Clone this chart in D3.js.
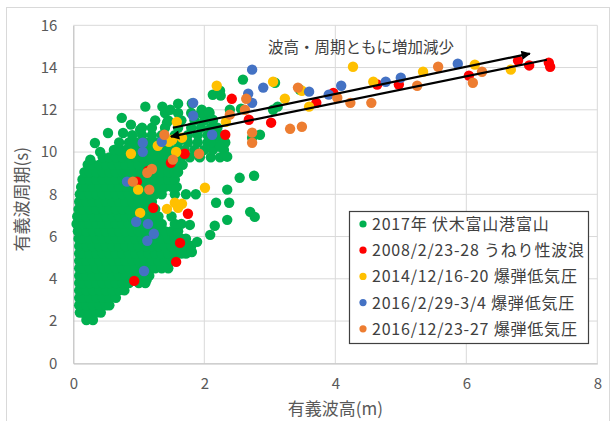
<!DOCTYPE html>
<html><head><meta charset="utf-8">
<script src="https://cdn.jsdelivr.net/npm/d3@7"></script>
<style>body{margin:0;background:#fff}</style>
</head><body>
<svg id="c" width="614" height="421"></svg>
<script>
// ---------------- data ----------------
const xTicks = [0, 2, 4, 6, 8];
const yTicks = [0, 2, 4, 6, 8, 10, 12, 14, 16];
const xTitle = "有義波高(m)";
const yTitle = "有義波周期(s)";
const annotation = "波高・周期ともに増加減少";
const seriesNames = [
  "2017年 伏木富山港富山",
  "2008/2/23-28 うねり性波浪",
  "2014/12/16-20 爆弾低気圧",
  "2016/2/29-3/4 爆弾低気圧",
  "2016/12/23-27 爆弾低気圧"
];

// 2017 Fushiki-Toyama: dense cloud, rows of [period, [wave heights]]
const greenRows = [
  [2.05, [0.2, 0.3]],
  [2.4,  [0.1, 0.15, 0.25, 0.35, 0.42]],
  [2.75, [0.09, 0.2, 0.3, 0.4, 0.5, 0.55]],
  [3.1,  [0.09, 0.15, 0.25, 0.35, 0.45, 0.55, 0.65]],
  [3.45, [0.09, 0.2, 0.3, 0.4, 0.5, 0.6, 0.7, 0.78]],
  [3.8,  [0.09, 0.15, 0.25, 0.35, 0.45, 0.55, 0.65, 0.75, 0.85, 1.0, 1.1]],
  [4.15, [0.09, 0.2, 0.3, 0.4, 0.5, 0.6, 0.7, 0.8, 0.9, 1.0, 1.1, 1.16]],
  [4.5,  [0.09, 0.15, 0.25, 0.35, 0.45, 0.55, 0.65, 0.75, 0.85, 0.95, 1.05, 1.15, 1.25, 1.35, 1.45]],
  [4.85, [0.09, 0.2, 0.3, 0.4, 0.5, 0.6, 0.7, 0.8, 0.9, 1.0, 1.1, 1.2, 1.3, 1.4, 1.5]],
  [5.2,  [0.09, 0.15, 0.25, 0.35, 0.45, 0.55, 0.65, 0.75, 0.85, 0.95, 1.05, 1.15, 1.25, 1.35, 1.45, 1.55, 1.65, 1.72]],
  [5.55, [0.09, 0.2, 0.3, 0.4, 0.5, 0.6, 0.7, 0.8, 0.9, 1.0, 1.1, 1.2, 1.3, 1.4, 1.5, 1.6, 1.7, 1.8]],
  [5.9,  [0.08, 0.15, 0.25, 0.35, 0.45, 0.55, 0.65, 0.75, 0.85, 0.95, 1.05, 1.15, 1.25, 1.35, 1.45, 1.55, 1.65, 1.72]],
  [6.25, [0.07, 0.2, 0.3, 0.4, 0.5, 0.6, 0.7, 0.8, 0.9, 1.0, 1.1, 1.2, 1.3, 1.4, 1.5, 1.6]],
  [6.6,  [0.05, 0.15, 0.25, 0.35, 0.45, 0.55, 0.65, 0.75, 0.85, 0.95, 1.05, 1.15, 1.25, 1.35, 1.55, 1.65]],
  [6.95, [0.06, 0.1, 0.2, 0.3, 0.4, 0.5, 0.6, 0.7, 0.8, 0.9, 1.0, 1.1, 1.2, 1.3, 1.5]],
  [7.3,  [0.08, 0.15, 0.25, 0.35, 0.45, 0.55, 0.65, 0.75, 0.85, 0.95, 1.05, 1.15, 1.25]],
  [7.65, [0.09, 0.2, 0.3, 0.4, 0.5, 0.6, 0.7, 0.8, 0.9, 1.0, 1.1, 1.2]],
  [8.0,  [0.1, 0.15, 0.25, 0.35, 0.45, 0.55, 0.65, 0.75, 0.85, 0.95, 1.05, 1.15, 1.25, 1.35, 1.55, 1.72, 1.87]],
  [8.35, [0.12, 0.2, 0.3, 0.4, 0.5, 0.6, 0.7, 0.8, 0.9, 1.0, 1.1, 1.2, 1.3, 1.4, 1.5, 1.58]],
  [8.7,  [0.14, 0.25, 0.35, 0.45, 0.55, 0.65, 0.75, 0.85, 0.95, 1.05, 1.15, 1.25, 1.35, 1.45, 1.55]],
  [9.05, [0.17, 0.25, 0.35, 0.45, 0.55, 0.65, 0.75, 0.85, 0.95, 1.05, 1.15, 1.25, 1.35, 1.45, 1.55, 1.6]],
  [9.4,  [0.22, 0.3, 0.4, 0.5, 0.6, 0.7, 0.8, 0.9, 1.0, 1.1, 1.2, 1.3, 1.4, 1.5, 1.6, 1.67]],
  [9.75, [0.45, 0.55, 0.65, 0.75, 0.85, 0.95, 1.05, 1.15, 1.25, 1.35, 1.45, 1.55, 1.65, 1.78, 1.93, 2.1, 2.24]],
  [10.1, [0.62, 0.7, 0.8, 0.9, 1.0, 1.1, 1.2, 1.3, 1.4, 1.5, 1.6, 1.7, 1.85, 2.0, 2.13, 2.3]],
  [10.45,[0.7, 0.85, 0.95, 1.05, 1.15, 1.25, 1.35, 1.45, 1.6, 1.75, 1.9, 2.05, 2.2, 2.32]],
  [10.8, [0.9, 1.05, 1.2, 1.35, 1.55, 1.75, 1.9, 2.05, 2.2, 2.3]],
  [11.15,[1.05, 1.2, 1.4, 1.6, 1.8, 1.95, 2.1, 2.2]],
  [11.5, [1.25, 1.45, 1.65, 1.85, 2.0, 2.13]],
  [11.85,[1.4, 1.6, 1.8, 1.95, 2.08]]
];
// 2017 scattered points [height, period]
const greenSparse = [
  [0.26, 9.64], [0.33, 10.43], [0.41, 10.0], [0.53, 10.9], [0.76, 10.9], [0.74, 11.62],
  [0.88, 11.3], [1.02, 11.06], [1.1, 12.15], [1.36, 12.15], [1.48, 12.0], [1.6, 12.29],
  [1.43, 11.39], [1.81, 12.3], [1.96, 12.0], [2.07, 11.9], [2.13, 12.71], [2.25, 12.67],
  [2.24, 12.9], [2.59, 13.43], [3.08, 13.28], [3.46, 12.95], [2.39, 12.0], [2.56, 12.05],
  [3.05, 12.0], [3.12, 12.15], [2.85, 10.82], [2.73, 10.68], [2.13, 11.53], [2.09, 10.44],
  [2.24, 10.25], [2.35, 9.78], [1.93, 9.78], [2.54, 8.78], [2.76, 8.88], [2.35, 8.22],
  [2.18, 7.6], [2.38, 7.6], [2.7, 7.17], [2.77, 6.93], [2.35, 6.79], [2.16, 6.51],
  [2.09, 6.08], [1.78, 6.55], [1.89, 5.75], [1.81, 5.27], [1.12, 3.95]
];
const red2008 = [
  [3.71, 12.33], [3.97, 12.8], [4.64, 13.2], [4.97, 13.2], [6.04, 13.62], [6.79, 14.33],
  [6.96, 14.1], [7.26, 14.23], [7.28, 14.04], [2.42, 12.52], [2.68, 11.53], [3.02, 11.39],
  [2.32, 10.82], [1.7, 9.92], [1.49, 9.49], [1.22, 7.36], [1.75, 7.08], [1.63, 5.7],
  [1.57, 4.8], [0.93, 3.9], [0.97, 8.6], [1.14, 9.1]
];
const yellow2014 = [
  [4.27, 14.04], [4.58, 13.33], [5.34, 13.8], [6.13, 14.14], [6.68, 13.9], [3.6, 12.15],
  [3.23, 12.53], [3.49, 12.9], [3.05, 13.33], [2.19, 13.14], [2.33, 11.43], [1.58, 11.43],
  [1.51, 10.58], [1.46, 10.49], [1.66, 10.68], [1.57, 10.0], [0.88, 9.92], [1.29, 10.3],
  [0.99, 8.22], [2.01, 8.31], [1.55, 7.6], [1.66, 7.55], [1.6, 7.36], [1.43, 7.31], [1.02, 7.12]
];
const blue2016a = [
  [2.73, 13.9], [2.9, 13.05], [2.67, 12.76], [2.73, 12.33], [3.6, 12.86], [3.9, 12.72],
  [4.09, 13.14], [4.77, 13.33], [5.0, 13.52], [5.87, 14.18], [2.12, 10.82], [1.83, 12.33],
  [1.83, 11.72], [1.35, 10.49], [1.06, 10.44], [1.06, 10.01], [0.82, 8.6], [0.96, 6.7],
  [1.14, 6.6], [1.23, 6.13], [1.13, 5.8], [1.08, 4.37]
];
const orange2016b = [
  [3.43, 13.05], [2.64, 12.52], [2.62, 12.0], [2.39, 11.77], [2.73, 10.92], [2.73, 10.44],
  [3.31, 11.1], [3.49, 11.2], [4.03, 12.57], [4.23, 12.33], [4.55, 12.33], [5.25, 13.14],
  [5.57, 14.04], [6.1, 13.28], [6.24, 13.8], [1.39, 10.82], [1.92, 9.92], [1.52, 9.64],
  [1.2, 9.2], [1.13, 9.02], [0.91, 8.6], [1.16, 8.22]
];
// trend arrows [[x0,y0],[x1,y1]]
const arrowUp = [[1.52, 11.15], [6.97, 14.66]];
const arrowDown = [[7.23, 14.37], [1.49, 10.73]];

// ---------------- drawing ----------------
const colors = ["#00b050", "#ff0000", "#ffc000", "#4472c4", "#ed7d31"];
const svg = d3.select("#c");
const FONT = "'Noto Sans CJK JP','Noto Sans',sans-serif";
const TXT = "#595959";

svg.append("rect").attr("x", 6.5).attr("y", 7.5).attr("width", 603).attr("height", 420)
  .attr("fill", "#fff").attr("stroke", "#d9d9d9");

const x = d3.scaleLinear().domain([0, 8]).range([73.3, 597.3]);
const y = d3.scaleLinear().domain([0, 16]).range([363.3, 25.3]);

// grid
const grid = svg.append("g");
grid.selectAll(".gx").data(xTicks.slice(1)).join("line")
  .attr("x1", d => x(d)).attr("x2", d => x(d)).attr("y1", y(16)).attr("y2", y(0))
  .attr("stroke", "#d9d9d9").attr("stroke-width", 1);
grid.selectAll(".gy").data(yTicks.slice(1)).join("line")
  .attr("x1", x(0)).attr("x2", x(8)).attr("y1", d => y(d)).attr("y2", d => y(d))
  .attr("stroke", "#d9d9d9").attr("stroke-width", 1);

// axes
const xAxis = svg.append("g").attr("transform", `translate(0,${y(0)})`)
  .call(d3.axisBottom(x).tickValues(xTicks).tickSize(0).tickPadding(15));
const yAxis = svg.append("g").attr("transform", `translate(${x(0)},0)`)
  .call(d3.axisLeft(y).tickValues(yTicks).tickSize(0).tickPadding(16));
[xAxis, yAxis].forEach(g => {
  g.select(".domain").attr("stroke", "#bfbfbf").attr("stroke-width", 1.2);
  g.selectAll("text").attr("fill", TXT).style("font-family", FONT).style("font-size", "15px");
});

// points
const plot = svg.append("g");
const greenPts = [];
greenRows.forEach(([py, xs]) => xs.forEach(px => greenPts.push([px, py])));
greenSparse.forEach(p => greenPts.push(p));
const all = [greenPts, red2008, yellow2014, blue2016a, orange2016b];
all.forEach((pts, i) => {
  plot.append("g").selectAll("circle").data(pts).join("circle")
    .attr("cx", d => x(d[0])).attr("cy", d => y(d[1])).attr("r", 5.2)
    .attr("fill", colors[i]);
});

// arrows
const defs = svg.append("defs");
defs.append("marker").attr("id", "ah").attr("viewBox", "0 0 10 10")
  .attr("refX", 9).attr("refY", 5).attr("markerWidth", 5).attr("markerHeight", 4.2)
  .attr("orient", "auto").attr("markerUnits", "strokeWidth")
  .append("path").attr("d", "M0,0 L10,5 L0,10 Z").attr("fill", "#000");
[arrowUp, arrowDown].forEach(a => {
  svg.append("line")
    .attr("x1", x(a[0][0])).attr("y1", y(a[0][1]))
    .attr("x2", x(a[1][0])).attr("y2", y(a[1][1]))
    .attr("stroke", "#000").attr("stroke-width", 2.2).attr("marker-end", "url(#ah)");
});

// annotation
svg.append("text").attr("x", 268).attr("y", 53).text(annotation)
  .attr("fill", "#404040").style("font-family", FONT).style("font-size", "15.5px");

// axis titles
svg.append("text").attr("x", (x(0) + x(8)) / 2).attr("y", 415).attr("text-anchor", "middle")
  .text(xTitle).attr("fill", TXT).style("font-family", FONT).style("font-size", "17px");
svg.append("text").attr("transform", `translate(28,${(y(0) + y(16)) / 2 + 5}) rotate(-90)`)
  .attr("text-anchor", "middle")
  .text(yTitle).attr("fill", TXT).style("font-family", FONT).style("font-size", "17px");

// legend
const lg = svg.append("g");
lg.append("rect").attr("x", 349.5).attr("y", 211.5).attr("width", 239).attr("height", 132)
  .attr("fill", "#fff").attr("stroke", "#404040").attr("stroke-width", 1.2);
seriesNames.forEach((name, i) => {
  const cy = 224 + i * 26.2;
  lg.append("circle").attr("cx", 363).attr("cy", cy).attr("r", 3.6).attr("fill", colors[i]);
  lg.append("text").attr("x", 372).attr("y", cy + 6).text(name)
    .attr("fill", "#404040").style("font-family", FONT).style("font-size", "16px")
    .style("letter-spacing", "0.8px");
});
</script>
</body></html>
